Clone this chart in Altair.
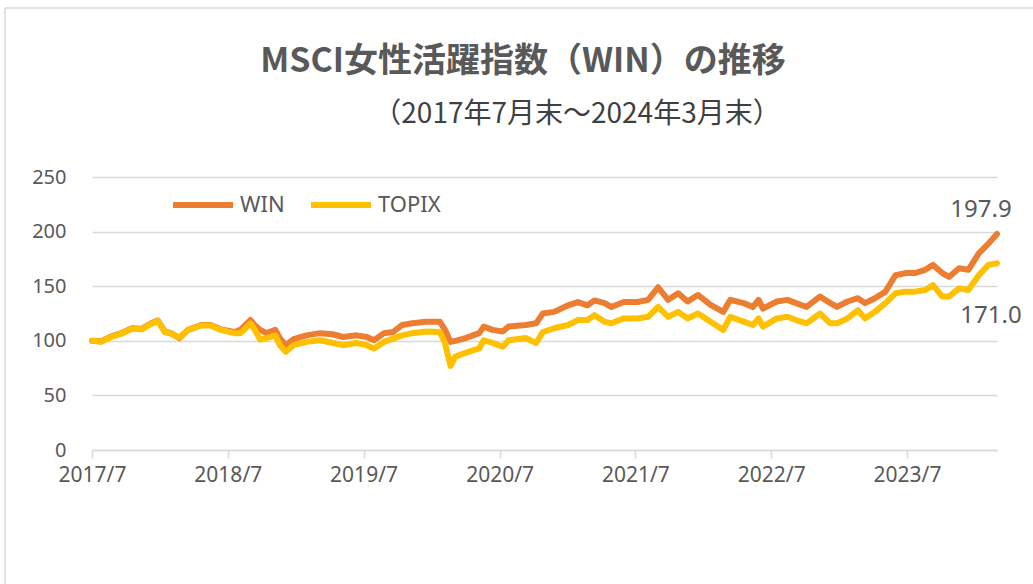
import altair as alt
import pandas as pd

dates = [
    "2017-07-31", "2017-08-24", "2017-09-21", "2017-10-18", "2017-11-15", "2017-12-12", "2018-01-06", "2018-01-24", "2018-02-12", "2018-02-28",
    "2018-03-23", "2018-04-15", "2018-05-21", "2018-06-15", "2018-07-12", "2018-08-18", "2018-09-03", "2018-09-30", "2018-10-12", "2018-10-26",
    "2018-11-12", "2018-12-06", "2018-12-18", "2019-01-03", "2019-01-24", "2019-02-28", "2019-04-06", "2019-05-09", "2019-06-06", "2019-07-12",
    "2019-08-09", "2019-08-28", "2019-09-24", "2019-10-18", "2019-11-12", "2019-12-09", "2020-01-15", "2020-02-21", "2020-03-06", "2020-03-21",
    "2020-04-03", "2020-04-30", "2020-06-06", "2020-06-18", "2020-07-12", "2020-08-08", "2020-08-24", "2020-10-09", "2020-11-06", "2020-11-24",
    "2020-12-24", "2021-01-31", "2021-02-26", "2021-03-24", "2021-04-12", "2021-05-09", "2021-05-27", "2021-06-30", "2021-08-06", "2021-09-03",
    "2021-09-30", "2021-10-27", "2021-11-23", "2021-12-18", "2022-01-15", "2022-02-18", "2022-03-24", "2022-04-12", "2022-05-18", "2022-06-12",
    "2022-06-27", "2022-07-09", "2022-08-15", "2022-09-12", "2022-10-06", "2022-11-03", "2022-12-09", "2023-01-06", "2023-01-24", "2023-02-21",
    "2023-03-21", "2023-04-09", "2023-05-06", "2023-06-03", "2023-06-30", "2023-07-27", "2023-08-21", "2023-09-18", "2023-10-09", "2023-11-03",
    "2023-11-21", "2023-12-18", "2024-01-12", "2024-02-09", "2024-03-06", "2024-03-29",
]

win = [
    100, 99.5, 104, 107, 111.5, 111, 116, 118.5, 108.5, 107,
    102.5, 110, 114.5, 114.5, 110.5, 108, 110, 119, 114, 110,
    107, 110, 102.5, 96, 101.5, 105, 107, 106, 103.5, 105,
    103.5, 100.5, 107, 108, 114.5, 116, 117.5, 117.5, 110, 99,
    100, 102.5, 107, 113, 110, 108.5, 113, 114.5, 116, 125,
    126.5, 132.5, 135.5, 132.5, 137, 134.5, 131, 135.5, 135.5, 137.5,
    149, 137.5, 143.5, 136, 142, 133, 126.5, 137.5, 134.5, 131,
    137.5, 129.5, 136, 137.5, 134.5, 131, 140.5, 134.5, 131, 136,
    139, 134.5, 139, 145, 160, 162, 162, 165, 169.5, 162,
    158.5, 166.5, 165, 180, 189, 197.9,
]

topix = [
    100, 99, 103.5, 106.5, 111, 110.5, 115.5, 118, 108, 106.5,
    103, 110, 114, 114, 110, 107, 107, 116, 110, 101,
    102.5, 105, 96, 90, 96, 99, 100.5, 98, 96, 98,
    96, 93, 99, 102, 105, 107, 108.5, 108, 98, 77,
    85.5, 89, 93, 100.5, 98, 94.6, 100.5, 102.5, 98, 108,
    111.5, 114.5, 119, 119, 123.5, 117.5, 116, 120.5, 120.5, 122,
    131, 122, 126.5, 120.5, 125, 117.5, 110, 122, 117.5, 114.5,
    120.5, 113, 120.5, 122, 119, 116, 125, 116, 116, 120.5,
    128, 120.5, 126.5, 134.5, 143.5, 145, 145, 146.5, 151, 140.5,
    140.5, 148, 146.5, 160, 169.5, 171.0,
]

series_names = ["WIN", "TOPIX"]
series_colors = ["#ED7D31", "#FFC000"]
tick_dates = ["2017-07-31", "2018-07-31", "2019-07-31", "2020-07-31", "2021-07-31", "2022-07-31", "2023-07-31"]
y_ticks = [0, 50, 100, 150, 200, 250]
title_text = "MSCI女性活躍指数（WIN）の推移"
subtitle_text = "（2017年7月末～2024年3月末）"

df = pd.concat([
    pd.DataFrame({"date": dates, "series": "WIN", "value": win}),
    pd.DataFrame({"date": dates, "series": "TOPIX", "value": topix}),
])
last = pd.DataFrame({
    "date": [dates[-1], dates[-1]],
    "series": ["WIN", "TOPIX"],
    "value": [win[-1], topix[-1]],
    "label": [f"{win[-1]:.1f}", f"{topix[-1]:.1f}"],
})

FONT = "Noto Sans"
GRAY = "#595959"

x_enc = alt.X(
    "date:T",
    scale=alt.Scale(domain=[dates[0], dates[-1]]),
    axis=alt.Axis(
        values=[pd.Timestamp(d).isoformat() for d in tick_dates],
        format="%Y/%-m",
        labelFontSize=21,
        labelColor=GRAY,
        labelFont=FONT,
        labelPadding=6,
        labelFlush=False,
        domainColor="#D9D9D9",
        domainWidth=1.5,
        tickColor="#D9D9D9",
        tickWidth=1.5,
        tickSize=8,
        grid=False,
        title=None,
    ),
)
y_enc = alt.Y(
    "value:Q",
    scale=alt.Scale(domain=[0, 250], nice=False),
    axis=alt.Axis(
        values=y_ticks,
        labelFontSize=20,
        labelColor=GRAY,
        labelFont=FONT,
        labelPadding=26,
        domain=False,
        ticks=False,
        gridColor="#D9D9D9",
        gridWidth=1.5,
        title=None,
    ),
)
color_enc = alt.Color(
    "series:N",
    scale=alt.Scale(domain=series_names, range=series_colors),
    legend=alt.Legend(
        title=None,
        orient="none",
        legendX=78,
        legendY=-5,
        direction="horizontal",
        symbolType="stroke",
        symbolSize=3600,
        symbolStrokeWidth=6,
        labelFontSize=22,
        labelColor=GRAY,
        labelFont=FONT,
        labelOffset=4,
        columnPadding=14,
    ),
)

base = alt.Chart(df)
line_win = base.transform_filter(alt.datum.series == "WIN").mark_line(
    strokeWidth=6, strokeJoin="round", strokeCap="round"
).encode(x=x_enc, y=y_enc, color=color_enc)
line_topix = base.transform_filter(alt.datum.series == "TOPIX").mark_line(
    strokeWidth=6, strokeJoin="round", strokeCap="round"
).encode(x=x_enc, y=y_enc, color=color_enc)

lab_base = alt.Chart(last)
lab_win = lab_base.transform_filter(alt.datum.series == "WIN").mark_text(
    fontSize=24, font=FONT, color=GRAY, dx=-16, dy=-24
).encode(x="date:T", y="value:Q", text="label:N")
lab_topix = lab_base.transform_filter(alt.datum.series == "TOPIX").mark_text(
    fontSize=24, font=FONT, color=GRAY, dx=-6, dy=53
).encode(x="date:T", y="value:Q", text="label:N")

one = alt.Chart(pd.DataFrame({"t": [title_text], "s": [subtitle_text]}))
title_mark = one.mark_text(
    fontSize=34, fontWeight="bold", font="Noto Sans CJK JP", color=GRAY
).encode(x=alt.value(431), y=alt.value(-115), text="t:N")
subtitle_mark = one.mark_text(
    fontSize=28, font="Noto Sans CJK JP", color="#404040"
).encode(x=alt.value(485), y=alt.value(-62), text="s:N")

frame_left = one.mark_rule(color="#D9D9D9", strokeWidth=1.5).encode(
    x=alt.value(-87), y=alt.value(-169), y2=alt.value(407)
)
frame_top = one.mark_rule(color="#D9D9D9", strokeWidth=1.5).encode(
    x=alt.value(-87), x2=alt.value(941), y=alt.value(-169)
)

chart = alt.layer(
    frame_left, frame_top, line_win, line_topix, lab_win, lab_topix, title_mark, subtitle_mark
).properties(
    width=905,
    height=273,
    padding={"left": 92, "top": 177, "right": 36, "bottom": 134},
    autosize=alt.AutoSizeParams(type="none"),
    background="white",
).configure_view(stroke=None)

chart.save("out.html", embed_options={"renderer": "svg", "actions": False})
